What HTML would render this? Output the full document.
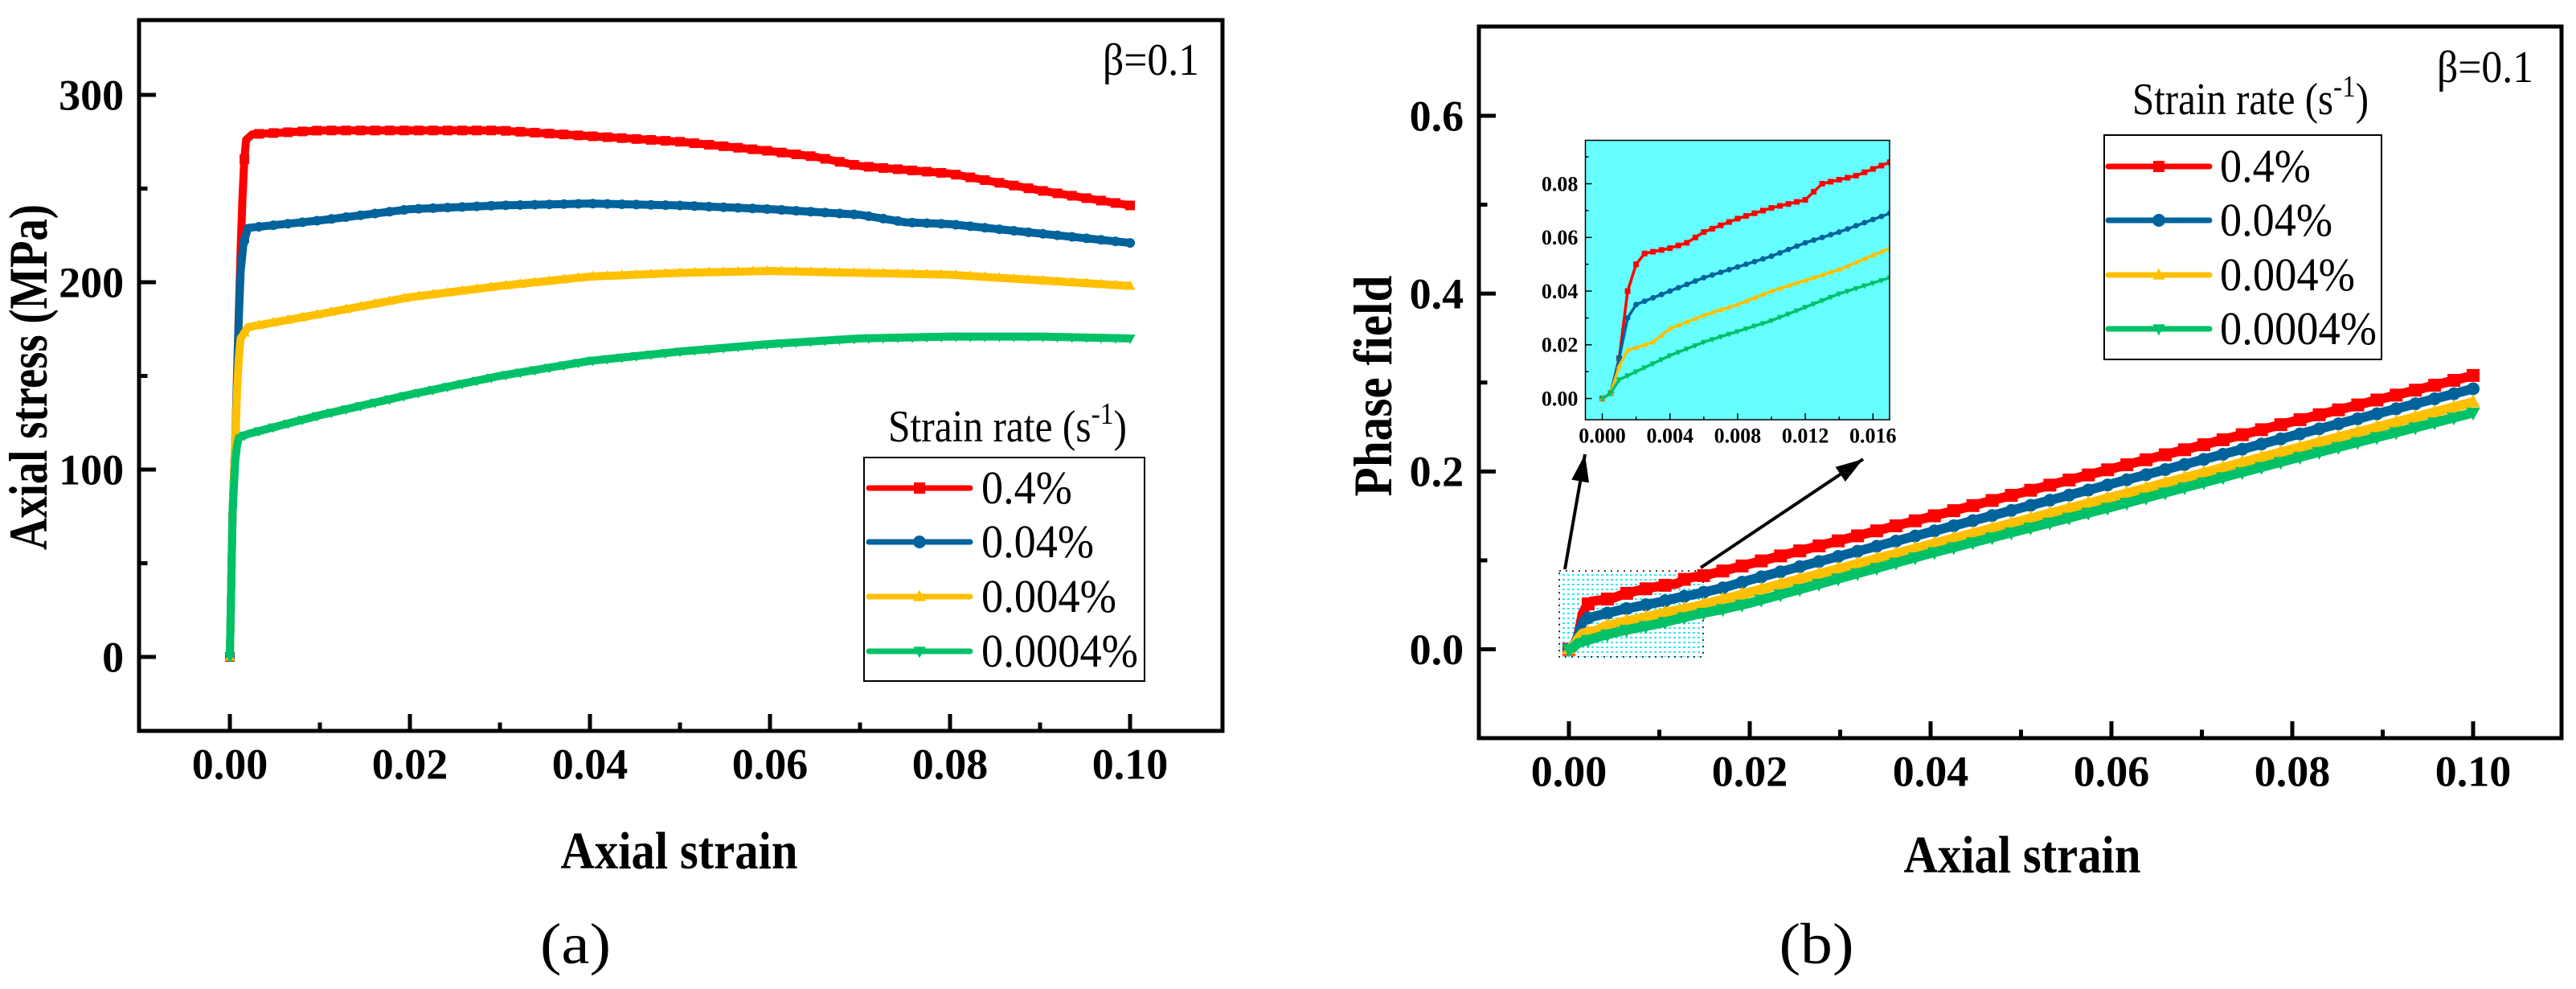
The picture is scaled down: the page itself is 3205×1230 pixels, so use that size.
<!DOCTYPE html>
<html><head><meta charset="utf-8"><style>
html,body{margin:0;padding:0;background:#fff;}
svg{display:block;font-family:"Liberation Serif","Times New Roman",serif;}
text{font-family:"Liberation Serif","Times New Roman",serif;}
</style></head><body>
<svg id="fig" xmlns="http://www.w3.org/2000/svg" width="3205" height="1230" viewBox="0 0 3205 1230" font-family="Liberation Serif, serif">
<defs>
<pattern id="dots" width="6" height="6" patternUnits="userSpaceOnUse"><rect width="6" height="6" fill="#fff"/><rect width="3" height="2" fill="#33e8f0"/></pattern>
</defs>
</svg>
<script>
// ===== Chart (a) data =====
const seriesNames = ["0.4%","0.04%","0.004%","0.0004%"];
const seriesColors = ["#ff0000","#00639c","#ffc000","#00c168"];
const aTicksX = [0,0.02,0.04,0.06,0.08,0.10];
const aTickLabelsX = ["0.00","0.02","0.04","0.06","0.08","0.10"];
const aTicksY = [0,100,200,300];
const aTickLabelsY = ["0","100","200","300"];
const aRedX = [0,0.00015,0.0003,0.0006,0.0008,0.001,0.0012,0.0014,0.0016,0.0018,0.0025,0.01,0.02,0.03,0.04,0.05,0.06,0.065,0.07,0.08,0.09,0.1];
const aRedY = [0,38,77,115,150,185,218,245,265,276,279,281,281,281,278,275,270,267,262,258,249,241];
const aBlueX = [0,0.00015,0.0003,0.0006,0.0008,0.001,0.0012,0.0015,0.002,0.01,0.02,0.03,0.04,0.05,0.06,0.07,0.075,0.08,0.09,0.1];
const aBlueY = [0,38,77,115,150,182,206,220,229,233,239,241,242,241,239,236,232,231,226,221];
const aYellowX = [0,0.00015,0.0003,0.0006,0.0008,0.001,0.0012,0.002,0.01,0.02,0.03,0.04,0.05,0.06,0.07,0.08,0.09,0.1];
const aYellowY = [0,38,77,115,142,160,170,176,183,192,198,203,205,206,205,204,201,198];
const aGreenX = [0,0.00015,0.0003,0.0006,0.0008,0.001,0.002,0.01,0.02,0.03,0.04,0.05,0.06,0.07,0.08,0.09,0.1];
const aGreenY = [0,38,77,105,113,117,119,129,140,150,158,163,167,170,171,171,170];
// ===== Chart (b) data =====
const bTicksX = [0,0.02,0.04,0.06,0.08,0.10];
const bTickLabelsX = ["0.00","0.02","0.04","0.06","0.08","0.10"];
const bTicksY = [0,0.2,0.4,0.6];
const bTickLabelsY = ["0.0","0.2","0.4","0.6"];
const insetTicksX = [0,0.004,0.008,0.012,0.016];
const insetTickLabelsX = ["0.000","0.004","0.008","0.012","0.016"];
const insetTicksY = [0,0.02,0.04,0.06,0.08];
const insetTickLabelsY = ["0.00","0.02","0.04","0.06","0.08"];
const bRedX = [0,0.0005,0.001,0.0015,0.002,0.0025,0.004,0.005,0.006,0.008,0.01,0.012,0.013,0.015,0.017,0.02,0.04,0.06,0.08,0.1];
const bRedY = [0,0.002,0.015,0.04,0.05,0.054,0.056,0.058,0.062,0.067,0.071,0.074,0.08,0.083,0.088,0.096,0.149,0.203,0.256,0.308];
const bBlueX = [0,0.0005,0.001,0.0015,0.002,0.004,0.006,0.008,0.01,0.012,0.014,0.017,0.02,0.04,0.06,0.08,0.1];
const bBlueY = [0,0.002,0.015,0.03,0.035,0.04,0.045,0.049,0.053,0.058,0.062,0.069,0.078,0.132,0.186,0.24,0.293];
const bYellowX = [0,0.0005,0.001,0.0015,0.003,0.004,0.006,0.008,0.01,0.012,0.014,0.017,0.02,0.04,0.06,0.08,0.1];
const bYellowY = [0,0.002,0.012,0.018,0.021,0.026,0.031,0.035,0.04,0.044,0.048,0.056,0.064,0.118,0.171,0.225,0.278];
const bGreenX = [0,0.0005,0.001,0.002,0.004,0.006,0.008,0.01,0.012,0.014,0.017,0.02,0.04,0.06,0.08,0.1];
const bGreenY = [0,0.002,0.007,0.01,0.016,0.021,0.025,0.029,0.034,0.039,0.045,0.052,0.108,0.16,0.214,0.266];

const NS = "http://www.w3.org/2000/svg";
const FONT = '"Liberation Serif", serif';
const svg = document.getElementById('fig');
function mk(tag, attrs, parent){const e=document.createElementNS(NS,tag);for(const k in attrs)e.setAttribute(k,attrs[k]);if(tag==='text'){e.style.fontFamily=FONT;}(parent||svg).appendChild(e);return e;}
function lin(d0,d1,r0,r1){return v=>r0+(v-d0)/(d1-d0)*(r1-r0);}

function axesFrame(g, L,T,R,B, sx, sy, xt, xl, yt, yl, xMinor, yMinor, fs, sw, tl){
  for(let i=0;i<xt.length;i++){
    const t=mk('line',{x1:sx(xt[i]),x2:sx(xt[i]),y1:B,y2:B-tl,stroke:'#000','stroke-width':sw},g);
    
    
    const lb=mk('text',{x:sx(xt[i]),y:B+fs*1.1,'text-anchor':'middle','font-size':fs,'font-weight':'bold'},g);
    lb.textContent=xl[i];
    
    
  }
  for(const v of xMinor){
    const t=mk('line',{x1:sx(v),x2:sx(v),y1:B,y2:B-tl/2,stroke:'#000','stroke-width':sw},g);
    
    
  }
  for(let i=0;i<yt.length;i++){
    const t=mk('line',{x1:L,x2:L+tl,y1:sy(yt[i]),y2:sy(yt[i]),stroke:'#000','stroke-width':sw},g);
    
    
    const lb=mk('text',{x:L-fs*0.35,y:sy(yt[i])+fs*0.34,'text-anchor':'end','font-size':fs,'font-weight':'bold'},g);
    lb.textContent=yl[i];
    
    
  }
  for(const v of yMinor){
    const t=mk('line',{x1:L,x2:L+tl/2,y1:sy(v),y2:sy(v),stroke:'#000','stroke-width':sw},g);
    
    
  }
  const fr=mk('rect',{x:L,y:T,width:R-L,height:B-T,fill:'none',stroke:'#000','stroke-width':sw},g);
  
  
}
function marker(g,kind,x,y,r,color){
  let e;
  if(kind===0) e=mk('rect',{x:x-r,y:y-r,width:2*r,height:2*r,fill:color},g);
  else if(kind===1) e=mk('circle',{cx:x,cy:y,r:r,fill:color},g);
  else if(kind===2) e=mk('polygon',{points:`${x},${y-r*1.2} ${x-r*1.1},${y+r*0.8} ${x+r*1.1},${y+r*0.8}`,fill:color},g);
  else e=mk('polygon',{points:`${x},${y+r*1.2} ${x-r*1.1},${y-r*0.8} ${x+r*1.1},${y-r*0.8}`,fill:color},g);
  return e;
}
function series(g,X,Y,sx,sy,color,w,kind,mr,name,clip){
  const pts=X.map((v,i)=>sx(v)+','+sy(Y[i])).join(' ');
  const p=mk('polyline',{points:pts,fill:'none',stroke:color,'stroke-width':w,'stroke-linejoin':'round'},g);
  if(clip) p.setAttribute('clip-path',clip);
  
  
  const xmin=X[0], xmax=X[X.length-1];
  const n=Math.max(2,Math.round((sx(xmax)-sx(xmin))/ (mr*3)));
  for(let i=0;i<=n;i++){
    const xv=xmin+(xmax-xmin)*i/n;
    let j=0; while(j<X.length-2 && X[j+1]<xv) j++;
    const f=(xv-X[j])/(X[j+1]-X[j]||1);
    const yv=Y[j]+f*(Y[j+1]-Y[j]);
    const m=marker(g,kind,sx(xv),sy(yv),mr,color);
    if(clip) m.setAttribute('clip-path',clip);
    
    
  }
}
function legend(g,x0,y0,x1,y1,lineX0,lineX1,textX,ys,fs,title,titleX,titleY,titleW,textWs){
  const box=mk('rect',{x:x0,y:y0,width:x1-x0,height:y1-y0,fill:'#fff',stroke:'#000','stroke-width':2},g);
  
  
  const t=mk('text',{x:titleX,y:titleY,'font-size':56,textLength:titleW,lengthAdjust:'spacingAndGlyphs'},g);
  t.innerHTML='Strain rate (s<tspan dy="-22" font-size="38">-1</tspan><tspan dy="22">)</tspan>';
  
  
  for(let i=0;i<4;i++){
    const ln=mk('line',{x1:lineX0,x2:lineX1,y1:ys[i],y2:ys[i],stroke:seriesColors[i],'stroke-width':7,'stroke-linecap':'round'},g);
    
    
    const mm=marker(g,i,(lineX0+lineX1)/2,ys[i],i===1?8:7,seriesColors[i]);
    
    
    const tx=mk('text',{x:textX,y:ys[i]+19,'font-size':58,textLength:textWs[i],lengthAdjust:'spacingAndGlyphs'},g);
    tx.textContent=seriesNames[i];
    
    
  }
}
const legendTextW=[113,140,168,195];

// ===== Chart (a) =====
const ga=mk('g',{});


const aL=173,aT=25,aR=1521,aB=909;
const ax=lin(0,0.1,286,1406), ay=lin(0,300,817,118);
const aGroups=[[aRedX,aRedY],[aBlueX,aBlueY],[aYellowX,aYellowY],[aGreenX,aGreenY]];
const aNames=['series-0-4','series-0-04','series-0-004','series-0-0004'];
for(let i=0;i<4;i++) series(ga,aGroups[i][0],aGroups[i][1],ax,ay,seriesColors[i],10,i,6,'line-a-'+aNames[i]);
axesFrame(ga,aL,aT,aR,aB,ax,ay,aTicksX,aTickLabelsX,aTicksY,aTickLabelsY,[0.01,0.03,0.05,0.07,0.09],[50,150,250],54,5,21);
legend(ga,1075,569,1424,847,1081,1207,1221,[607,674,742,810],58,'Strain rate',1105,549,297,legendTextW);
let t;
t=mk('text',{x:1372,y:93,'font-size':56,textLength:120,lengthAdjust:'spacingAndGlyphs'},ga);t.textContent='β=0.1';


t=mk('text',{x:845,y:1080,'text-anchor':'middle','font-size':66,'font-weight':'bold',textLength:295,lengthAdjust:'spacingAndGlyphs'},ga);t.textContent='Axial strain';


t=mk('text',{x:0,y:0,'text-anchor':'middle','font-size':68,'font-weight':'bold',textLength:430,lengthAdjust:'spacingAndGlyphs',transform:'translate(58,469) rotate(-90)'},ga);t.textContent='Axial stress (MPa)';


t=mk('text',{x:716,y:1198,'text-anchor':'middle','font-size':72,textLength:88,lengthAdjust:'spacingAndGlyphs'},ga);t.textContent='(a)';



// ===== Chart (b) =====
const gb=mk('g',{});


const bL=1840,bT=33,bR=3187,bB=918;
const bx=lin(0,0.1,1952,3077), by=lin(0,0.6,807.5,144);
let zr=mk('rect',{x:1940,y:710,width:179,height:107,fill:'url(#dots)',stroke:'#000','stroke-width':1.5,'stroke-dasharray':'2 6'},gb);


const bGroups=[[bRedX,bRedY],[bBlueX,bBlueY],[bYellowX,bYellowY],[bGreenX,bGreenY]];
for(let i=0;i<4;i++) series(gb,bGroups[i][0],bGroups[i][1],bx,by,seriesColors[i],12,i,8,'line-b-'+aNames[i]);
axesFrame(gb,bL,bT,bR,bB,bx,by,bTicksX,bTickLabelsX,bTicksY,bTickLabelsY,[0.01,0.03,0.05,0.07,0.09],[0.1,0.3,0.5],54,5,21);
function arrow(x1,y1,x2,y2,name){
  const l=mk('line',{x1,y1,x2,y2,stroke:'#000','stroke-width':4},gb);
  
  
  const a=Math.atan2(y2-y1,x2-x1),L=34,W=11;
  const bx0=x2-L*Math.cos(a),by0=y2-L*Math.sin(a);
  const h=mk('polygon',{points:`${x2},${y2} ${bx0+W*Math.sin(a)},${by0-W*Math.cos(a)} ${bx0-W*Math.sin(a)},${by0+W*Math.cos(a)}`,fill:'#000'},gb);
  
  
}
arrow(1947,708,1972,565,'inset-arrow-left');
arrow(2116,706,2318,571,'inset-arrow-right');
const iL=1972.5,iT=174.5,iR=2351,iB=522;
const ix=lin(0,0.004,1993.5,2077.7), iy=lin(0,0.08,495.6,228.5);
let ib=mk('rect',{x:iL,y:iT,width:iR-iL,height:iB-iT,fill:'#66ffff'},gb);


mk('clipPath',{id:'insetClip'},gb).appendChild(document.createElementNS(NS,'rect'));
const cr=gb.querySelector('#insetClip rect');cr.setAttribute('x',iL);cr.setAttribute('y',iT);cr.setAttribute('width',iR-iL);cr.setAttribute('height',iB-iT);
for(let i=0;i<4;i++) series(gb,bGroups[i][0],bGroups[i][1],ix,iy,seriesColors[i],3.5,i,3.5,'inset-'+aNames[i],'url(#insetClip)');
axesFrame(gb,iL,iT,iR,iB,ix,iy,insetTicksX,insetTickLabelsX,insetTicksY,insetTickLabelsY,[0.002,0.006,0.01,0.014],[0.01,0.03,0.05,0.07,0.09],26,1.5,8);
legend(gb,2618,168,2963,447,2623,2749,2762,[207,274,342,409],58,'Strain rate',2653,142,294,legendTextW);
t=mk('text',{x:3032,y:102,'font-size':56,textLength:120,lengthAdjust:'spacingAndGlyphs'},gb);t.textContent='β=0.1';


t=mk('text',{x:2516,y:1085,'text-anchor':'middle','font-size':66,'font-weight':'bold',textLength:295,lengthAdjust:'spacingAndGlyphs'},gb);t.textContent='Axial strain';


t=mk('text',{x:0,y:0,'text-anchor':'middle','font-size':68,'font-weight':'bold',textLength:275,lengthAdjust:'spacingAndGlyphs',transform:'translate(1731,480) rotate(-90)'},gb);t.textContent='Phase field';


t=mk('text',{x:2260,y:1198,'text-anchor':'middle','font-size':72,textLength:93,lengthAdjust:'spacingAndGlyphs'},gb);t.textContent='(b)';


</script>
</body></html>
